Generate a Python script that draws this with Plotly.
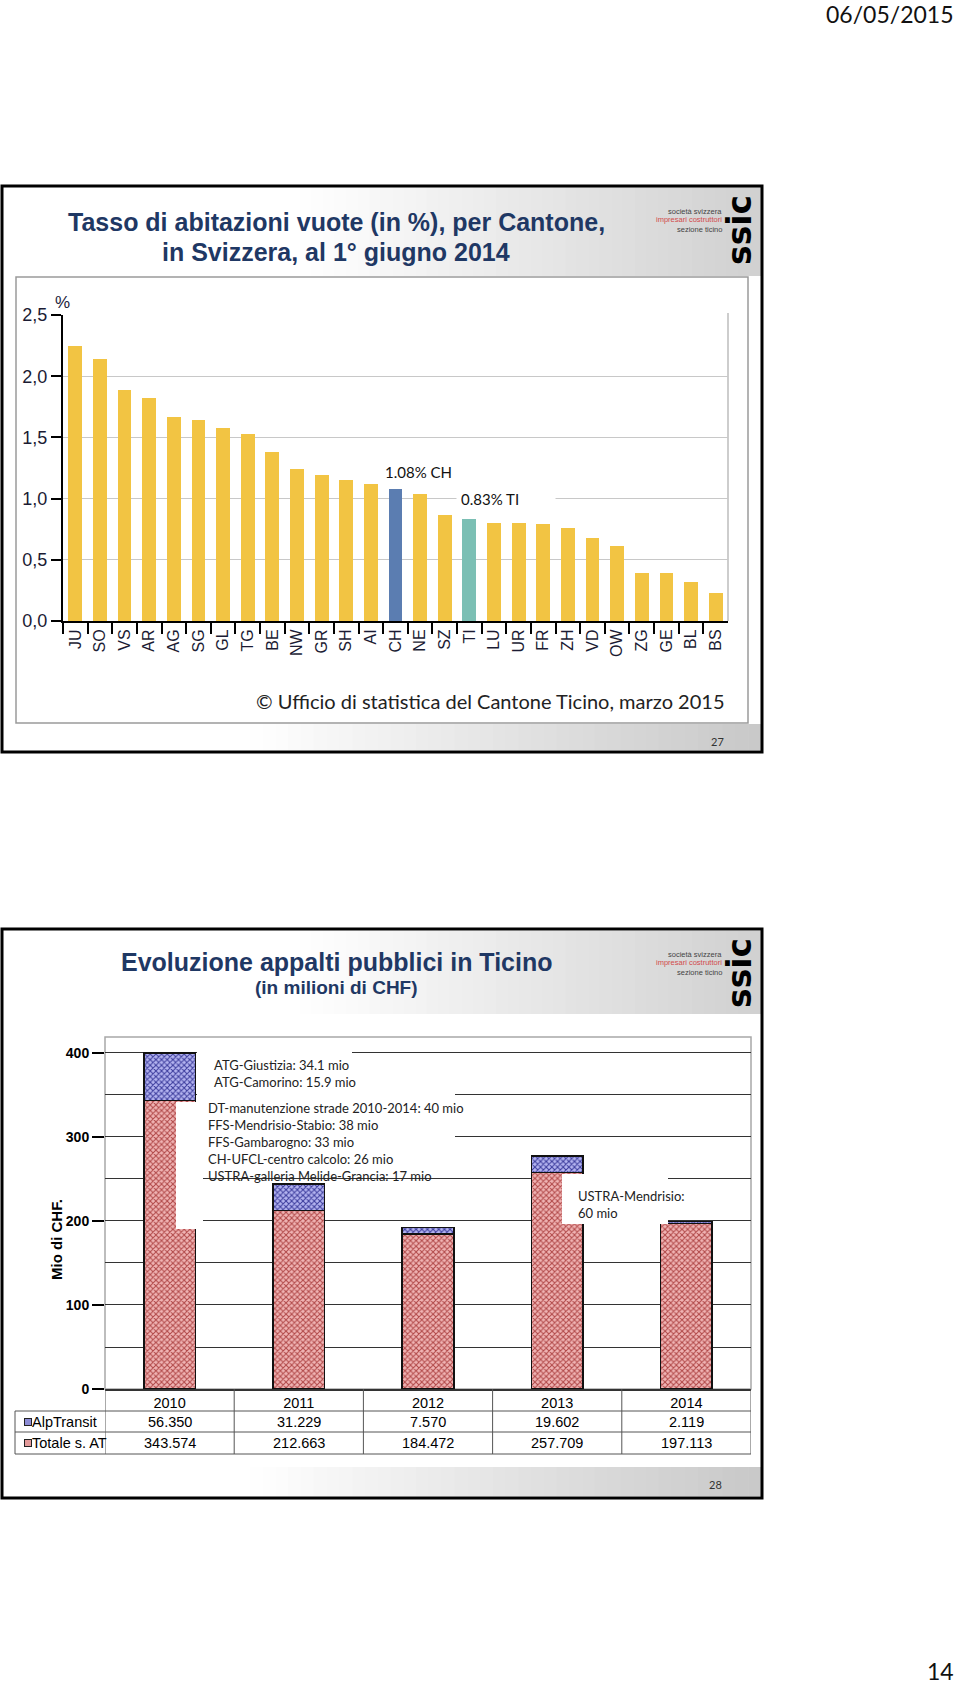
import plotly.graph_objects as go

# ---- slide 27: vacancy rate by canton ----
cantons = ["JU", "SO", "VS", "AR", "AG", "SG", "GL", "TG", "BE", "NW", "GR", "SH", "AI", "CH",
           "NE", "SZ", "TI", "LU", "UR", "FR", "ZH", "VD", "OW", "ZG", "GE", "BL", "BS"]
vacancy = [2.25, 2.14, 1.89, 1.82, 1.67, 1.64, 1.58, 1.53, 1.38, 1.24, 1.19, 1.15, 1.12, 1.08,
           1.04, 0.87, 0.83, 0.80, 0.80, 0.79, 0.76, 0.68, 0.61, 0.39, 0.39, 0.32, 0.23]
y1_ticks = [0, 0.5, 1.0, 1.5, 2.0, 2.5]

# ---- slide 28: public contracts in Ticino ----
years = ["2010", "2011", "2012", "2013", "2014"]
alptransit = [56.350, 31.229, 7.570, 19.602, 2.119]
totale_sat = [343.574, 212.663, 184.472, 257.709, 197.113]
y2_ticks = [0, 100, 200, 300, 400]
notes_atg = ["ATG-Giustizia: 34.1 mio", "ATG-Camorino: 15.9 mio"]
notes_2011 = ["DT-manutenzione strade 2010-2014: 40 mio", "FFS-Mendrisio-Stabio: 38 mio",
              "FFS-Gambarogno: 33 mio", "CH-UFCL-centro calcolo: 26 mio",
              "USTRA-galleria Melide-Grancia: 17 mio"]
notes_2013 = ["USTRA-Mendrisio:", "60 mio"]

W, H = 960, 1684
def X(p): return p / W
def Y(p): return 1 - p / H

ARIAL = "Liberation Sans, Arial, sans-serif"
CALIBRI = "Lato, Open Sans, sans-serif"
NAVY = "#1f3864"

shapes = []
annotations = []

def rect(x0, y0, x1, y1, **kw):
    d = dict(type="rect", xref="paper", yref="paper", x0=X(x0), x1=X(x1), y0=Y(y1), y1=Y(y0))
    d.update(kw)
    shapes.append(d)

def gradient(x0, x1, y0, y1, c1, n=40):
    step = (x1 - x0) / n
    for i in range(n):
        c = round(255 + (c1 - 255) * (i + 0.5) / n)
        rect(x0 + i * step, y0, x0 + (i + 1) * step + 0.6, y1,
             fillcolor=f"rgb({c},{c},{c})", line_width=0, layer="below")

def text(x, y, s, size, family=ARIAL, color="black", anchor="center", bold=False, **kw):
    if bold:
        s = f"<b>{s}</b>"
    d = dict(x=X(x), y=Y(y), xref="paper", yref="paper", text=s, showarrow=False,
             xanchor=anchor, yanchor="middle", font=dict(size=size, family=family, color=color))
    d.update(kw)
    annotations.append(d)

def logo(dy):
    text(724, 212 + dy, "società svizzera", 7.5, color="#444", anchor="right")
    text(724, 220 + dy, "impresari costruttori", 7.5, color="#d24b4b", anchor="right")
    text(724, 229 + dy, "sezione ticino", 7.5, color="#444", anchor="right")
    text(739, 230 + dy, "ssic", 33, family="DejaVu Sans", bold=True, textangle=-90)

# slide 27 chrome
gradient(300, 761, 187, 276, 208)
gradient(250, 761, 724, 750, 200)
rect(16, 277, 748, 723, line=dict(color="#9a9a9a", width=1.5), layer="below")
rect(2, 186, 762, 752, line=dict(color="black", width=3))
shapes.append(dict(type="line", xref="paper", yref="paper", x0=X(728), x1=X(728), y0=Y(621), y1=Y(313),
                   line=dict(color="#bdbdbd", width=1.5), layer="below"))
text(336, 222, "Tasso di abitazioni vuote (in %), per Cantone,", 25, color=NAVY, bold=True)
text(336, 252, "in Svizzera, al 1° giugno 2014", 25, color=NAVY, bold=True)
logo(0)
text(62, 302, "%", 17, color="#22223b")
text(727, 701, "© Ufficio di statistica del Cantone Ticino, marzo 2015", 20, family=CALIBRI,
     color="#222", anchor="right")
text(717, 741, "27", 11, family=CALIBRI, color="#333")

# slide 28 chrome
gradient(300, 761, 931, 1014, 208)
gradient(250, 761, 1467, 1496, 200)
rect(105, 1037, 751, 1389, line=dict(color="#a8a8a8", width=1.5), layer="below")
rect(2, 929, 762, 1498, line=dict(color="black", width=3))
text(337, 962, "Evoluzione appalti pubblici in Ticino", 25, color=NAVY, bold=True)
text(336, 988, "(in milioni di CHF)", 19, color=NAVY, bold=True)
logo(743)
text(715, 1484, "28", 11, family=CALIBRI, color="#333")
text(56, 1240, "Mio di CHF.", 15, bold=True, textangle=-90)

# page chrome
text(956, 14, "06/05/2015", 23, family=CALIBRI, color="#111", anchor="right")
text(956, 1671, "14", 23, family=CALIBRI, color="#111", anchor="right")

# white boxes behind the notes on slide 28
for x0, y0, x1, y1 in [(197, 1046, 352, 1100), (197, 1090, 455, 1177), (176, 1102, 203, 1229),
                       (562, 1174, 668, 1224)]:
    rect(x0, y0, x1, y1, fillcolor="white", line_width=0, layer="above")
text(212, 1055, "<br>".join(notes_atg), 13, family=CALIBRI, color="#222", anchor="left",
     yanchor="top", align="left")
text(206, 1098, "<br>".join(notes_2011), 13, family=CALIBRI, color="#222", anchor="left",
     yanchor="top", align="left")
text(576, 1186, "<br>".join(notes_2013), 13, family=CALIBRI, color="#222", anchor="left",
     yanchor="top", align="left")

# data table under chart 2
for yy in (1411, 1432, 1454):
    shapes.append(dict(type="line", xref="paper", yref="paper", x0=X(15), x1=X(751), y0=Y(yy), y1=Y(yy),
                       line=dict(color="#555", width=1)))
shapes.append(dict(type="line", xref="paper", yref="paper", x0=X(15), x1=X(15), y0=Y(1411), y1=Y(1454),
                   line=dict(color="#555", width=1)))
for i in range(len(years) + 1):
    shapes.append(dict(type="line", xref="x2", yref="paper", x0=i - 0.5, x1=i - 0.5, y0=Y(1389), y1=Y(1454),
                       line=dict(color="#555", width=1)))
rows = [("AlpTransit", alptransit, "#8c8cd6", 1422), ("Totale s. AT", totale_sat, "#e39a9a", 1443)]
for label, vals, col, yy in rows:
    annotations.append(dict(x=X(23.5), y=Y(yy), xref="paper", yref="paper", text=" ", showarrow=False,
                            yanchor="middle", width=6, height=6, bgcolor=col, bordercolor="#222",
                            borderwidth=1, borderpad=0))
    text(30, yy, label, 14.5, anchor="left")
    for i, v in enumerate(vals):
        annotations.append(dict(x=i, y=Y(yy), xref="x2", yref="paper", text=f"{v:.3f}", showarrow=False,
                                yanchor="middle", font=dict(size=14.5, family=ARIAL, color="black")))

fig = go.Figure()
fig.add_trace(go.Bar(
    x=cantons, y=vacancy, width=0.56, xaxis="x", yaxis="y",
    marker=dict(color=["#5b7db1" if c == "CH" else "#7bbfb4" if c == "TI" else "#f2c443" for c in cantons],
                line_width=0),
    showlegend=False,
))
fig.add_trace(go.Bar(
    x=years, y=totale_sat, name="Totale s. AT", width=0.4, xaxis="x2", yaxis="y2",
    marker=dict(color="#eeaaaa", line=dict(color="#111", width=1.5),
                pattern=dict(shape="x", size=4, solidity=0.45, fgcolor="#b04848", bgcolor="#f0b4b4")),
))
fig.add_trace(go.Bar(
    x=years, y=alptransit, name="AlpTransit", width=0.4, xaxis="x2", yaxis="y2",
    marker=dict(color="#9a9ae0", line=dict(color="#111", width=1.5),
                pattern=dict(shape="x", size=4, solidity=0.45, fgcolor="#3c3c9c", bgcolor="#b4b4f0")),
))

annotations.append(dict(x="CH", y=1.08, xref="x", yref="y", text="1.08% CH", showarrow=False,
                        xanchor="left", yanchor="bottom", xshift=-13, yshift=6,
                        font=dict(size=15, family=CALIBRI, color="#111")))
annotations.append(dict(x="TI", y=1.0, xref="x", yref="y", text="0.83% TI", showarrow=False,
                        xanchor="left", yanchor="middle", xshift=-13, width=90, align="left",
                        bgcolor="white", borderpad=4,
                        font=dict(size=15, family=CALIBRI, color="#111")))

fig.update_layout(
    template="none",
    width=W, height=H,
    margin=dict(l=0, r=0, t=0, b=0, pad=0),
    paper_bgcolor="white", plot_bgcolor="rgba(0,0,0,0)",
    barmode="stack", showlegend=False, separators=",.",
    xaxis=dict(domain=[X(63), X(728)], anchor="y", type="category", showgrid=False, automargin=False,
               showline=True, linecolor="black", linewidth=2,
               ticks="outside", tickson="boundaries", ticklen=11, tickwidth=1.5, tickcolor="black",
               tickangle=-90, tickfont=dict(size=16, family=ARIAL, color="#1b1b33")),
    yaxis=dict(domain=[Y(621), Y(315)], anchor="x", range=[0, 2.5], tickvals=y1_ticks, tickformat=".1f",
               showgrid=True, gridcolor="#c8c8c8", gridwidth=1.2, zeroline=False, automargin=False,
               showline=True, linecolor="black", linewidth=2,
               ticks="outside", ticklen=10, tickwidth=1.5, tickcolor="black",
               tickfont=dict(size=18, family=ARIAL, color="#1b1b33")),
    xaxis2=dict(domain=[X(105), X(751)], anchor="y2", type="category", range=[-0.5, 4.5],
                showgrid=False, automargin=False,
                showline=True, linecolor="#333", linewidth=1.5, ticks="",
                tickfont=dict(size=14.5, family=ARIAL, color="black")),
    yaxis2=dict(domain=[Y(1389), Y(1037)], anchor="x2", range=[0, 419], tickvals=y2_ticks,
                showgrid=True, gridcolor="#333", gridwidth=1.2, zeroline=False, showline=False,
                automargin=False,
                minor=dict(dtick=50, tick0=0, showgrid=True, gridcolor="#333", gridwidth=1.2, ticks=""),
                ticks="outside", ticklen=12, tickwidth=1.5, tickcolor="black",
                tickfont=dict(size=14, family=ARIAL, color="black", weight="bold")),
    shapes=shapes,
    annotations=annotations,
)

# the page's default body margin would push the whole slide 8px off
fig.write_html("out.html", config={"displayModeBar": False},
               post_script="document.body.style.margin = '0';")
